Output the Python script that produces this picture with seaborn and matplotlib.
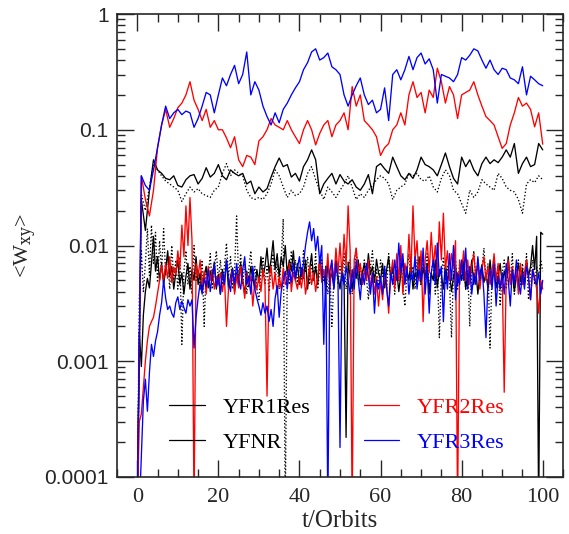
import numpy as np
import pandas as pd
import seaborn as sns
import matplotlib.pyplot as plt
from matplotlib.lines import Line2D
from matplotlib.ticker import FixedLocator, FixedFormatter, LogLocator, MultipleLocator

# time grids (orbits)
t_up = np.arange(0, 101, 1.0)
t_lo = np.arange(0, 100.5, 0.5)

# upper curves (total stress), one value per orbit
blue_up = [0.00005, 0.04, 0.033, 0.03, 0.045, 0.07, 0.11, 0.16, 0.125, 0.14,
           0.15, 0.135, 0.145, 0.14, 0.105, 0.125, 0.16, 0.21, 0.2, 0.14,
           0.2, 0.28, 0.24, 0.3, 0.36, 0.25, 0.3, 0.47, 0.2, 0.26,
           0.22, 0.16, 0.13, 0.11, 0.14, 0.115, 0.15, 0.17, 0.2, 0.23,
           0.26, 0.33, 0.38, 0.47, 0.5, 0.4, 0.42, 0.46, 0.35, 0.33,
           0.3, 0.2, 0.16, 0.2, 0.24, 0.28, 0.2, 0.165, 0.18, 0.14,
           0.15, 0.23, 0.12, 0.3, 0.33, 0.27, 0.33, 0.43, 0.33, 0.42,
           0.46, 0.37, 0.41, 0.33, 0.17, 0.3, 0.29, 0.28, 0.26, 0.3,
           0.42, 0.4, 0.44, 0.5, 0.48, 0.4, 0.34, 0.4, 0.33, 0.3,
           0.34, 0.33, 0.28, 0.27, 0.25, 0.35, 0.2, 0.29, 0.27, 0.25,
           0.24]
red_up = [0.00005, 0.04, 0.025, 0.018, 0.03, 0.07, 0.11, 0.15, 0.105, 0.125,
          0.155, 0.17, 0.2, 0.26, 0.18, 0.15, 0.12, 0.15, 0.105, 0.12,
          0.1, 0.1, 0.085, 0.07, 0.087, 0.055, 0.048, 0.06, 0.058, 0.05,
          0.08, 0.087, 0.1, 0.125, 0.11, 0.105, 0.1, 0.12, 0.1, 0.087,
          0.076, 0.1, 0.12, 0.1, 0.074, 0.093, 0.11, 0.12, 0.087, 0.11,
          0.12, 0.14, 0.1, 0.236, 0.16, 0.2, 0.12, 0.11, 0.1, 0.087,
          0.06, 0.07, 0.076, 0.1, 0.11, 0.14, 0.11, 0.2, 0.26, 0.19,
          0.21, 0.14, 0.22, 0.19, 0.34, 0.26, 0.17, 0.236, 0.2, 0.125,
          0.2, 0.21, 0.22, 0.26, 0.2, 0.16, 0.13, 0.12, 0.11, 0.087,
          0.069, 0.076, 0.11, 0.14, 0.19, 0.16, 0.17, 0.15, 0.106, 0.14,
          0.075]
black_up = [0.00005, 0.025, 0.0135, 0.03, 0.055, 0.045, 0.042, 0.038, 0.037, 0.04,
            0.033, 0.032, 0.037, 0.04, 0.041, 0.034, 0.038, 0.047, 0.039, 0.042,
            0.05, 0.04, 0.037, 0.045, 0.042, 0.04, 0.042, 0.034, 0.036, 0.028,
            0.032, 0.029, 0.031, 0.039, 0.048, 0.057, 0.048, 0.05, 0.039, 0.042,
            0.036, 0.048, 0.055, 0.067, 0.055, 0.028, 0.034, 0.038, 0.042, 0.034,
            0.041, 0.036, 0.034, 0.037, 0.032, 0.03, 0.034, 0.041, 0.028, 0.048,
            0.051, 0.046, 0.042, 0.058, 0.048, 0.04, 0.037, 0.042, 0.038, 0.045,
            0.058, 0.05, 0.048, 0.045, 0.04, 0.05, 0.063, 0.048, 0.038, 0.034,
            0.058, 0.048, 0.055, 0.045, 0.04, 0.051, 0.058, 0.051, 0.055, 0.052,
            0.058, 0.067, 0.058, 0.076, 0.042, 0.051, 0.058, 0.048, 0.05, 0.076,
            0.067]
dot_up = [0.00005, 0.028, 0.02, 0.032, 0.05, 0.045, 0.04, 0.036, 0.034, 0.032,
          0.03, 0.024, 0.028, 0.032, 0.029, 0.031, 0.028, 0.027, 0.026, 0.03,
          0.032, 0.042, 0.051, 0.04, 0.045, 0.042, 0.04, 0.03, 0.026, 0.025,
          0.026, 0.025, 0.028, 0.034, 0.045, 0.04, 0.032, 0.026, 0.03, 0.027,
          0.028, 0.032, 0.042, 0.048, 0.037, 0.03, 0.025, 0.032, 0.029, 0.026,
          0.03, 0.034, 0.04, 0.032, 0.025, 0.028, 0.026, 0.03, 0.033, 0.037,
          0.04, 0.038, 0.034, 0.025, 0.03, 0.032, 0.034, 0.042, 0.04, 0.042,
          0.037, 0.036, 0.04, 0.032, 0.029, 0.038, 0.045, 0.04, 0.03, 0.028,
          0.023, 0.019, 0.03, 0.026, 0.029, 0.037, 0.034, 0.032, 0.03, 0.042,
          0.038, 0.032, 0.03, 0.029, 0.025, 0.019, 0.034, 0.037, 0.035, 0.04,
          0.037]

# lower curves (Reynolds part), every half orbit, in units of 1e-3
black_lo = [0.05, 1.8, 0.9, 2.5, 4.0, 5.2, 4.3, 7.0, 12.0, 6.0, 8.0, 5.0, 7.0, 4.6, 6.2, 9.0, 5.4, 6.6, 4.2, 5.8,
            7.5, 4.6, 5.8, 3.8, 5.4, 7.0, 4.2, 6.2, 5.0, 8.0, 4.6, 5.8, 4.0, 5.4, 6.6, 4.3, 6.0, 5.0, 7.2, 4.2,
            5.6, 3.8, 6.2, 4.8, 7.5, 4.2, 5.4, 6.4, 4.0, 5.8, 4.6, 7.0, 5.0, 3.8, 6.0, 4.4, 6.6, 5.2, 4.2, 6.2,
            4.8, 8.0, 5.4, 6.6, 9.5, 5.8, 7.5, 11.0, 6.2, 8.5, 5.4, 8.0, 6.6, 10.0, 5.6, 7.5, 6.0, 9.0, 5.0, 7.0,
            4.6, 6.4, 5.2, 7.5, 4.2, 6.2, 8.5, 5.0, 6.6, 4.6, 8.0, 5.4, 6.0, 4.0, 7.0, 5.0, 5.8, 4.3, 7.5, 5.4,
            4.2, 6.2, 5.0, 0.22, 7.2, 5.4, 4.2, 6.4, 5.2, 7.5, 4.6, 5.8, 7.0, 5.0, 8.5, 5.6, 6.6, 4.8, 7.6, 5.8,
            5.0, 7.0, 4.3, 6.2, 8.0, 5.2, 6.6, 4.6, 6.0, 4.0, 5.6, 7.5, 4.8, 6.2, 5.0, 7.2, 4.2, 5.8, 5.2, 8.0,
            4.6, 6.4, 5.4, 7.0, 3.8, 5.8, 5.0, 7.5, 4.3, 6.2, 5.6, 4.2, 6.8, 5.0, 5.8, 4.0, 5.4, 6.6, 4.6, 6.0,
            5.0, 7.2, 4.2, 5.8, 5.2, 7.5, 4.6, 6.2, 3.8, 5.6, 6.8, 4.8, 5.8, 4.2, 7.5, 5.0, 6.4, 4.3, 5.4, 7.0,
            4.6, 6.0, 5.0, 8.0, 4.8, 5.8, 4.0, 5.4, 7.0, 5.0, 6.2, 4.6, 7.5, 5.4, 6.6, 10.0, 6.2, 12.0, 0.05, 13.0,
            12.5]
dot_lo = [0.05, 3.5, 9.0, 4.0, 7.0, 14.0, 5.5, 15.0, 7.0, 13.0, 4.8, 11.0, 6.0, 14.0, 5.5, 8.0, 4.2, 10.0, 5.0, 7.5,
          4.2, 8.0, 1.4, 6.0, 9.0, 4.6, 6.6, 3.8, 10.0, 5.0, 6.2, 4.2, 7.5, 2.0, 6.6, 5.4, 8.5, 4.2, 6.2, 9.0,
          5.0, 7.5, 4.6, 6.6, 10.5, 5.4, 8.0, 4.2, 6.0, 18.0, 5.0, 8.5, 4.6, 7.0, 3.8, 6.2, 9.0, 5.0, 6.6, 4.2,
          3.4, 5.8, 8.0, 4.6, 6.6, 4.0, 6.2, 8.5, 5.0, 7.0, 4.2, 7.5, 17.0, 0.05, 6.6, 4.6, 9.0, 5.4, 7.5, 4.6,
          6.6, 5.0, 9.0, 5.8, 8.0, 4.6, 7.0, 5.4, 8.5, 4.2, 6.2, 7.5, 5.0, 6.6, 3.8, 5.8, 2.0, 5.4, 7.5, 4.6,
          6.6, 5.0, 8.5, 4.2, 6.2, 7.5, 3.8, 5.8, 9.5, 5.0, 7.0, 4.6, 7.5, 5.4, 3.4, 6.6, 9.0, 5.0, 6.2, 4.2,
          7.5, 5.4, 6.6, 4.2, 8.5, 5.0, 6.2, 3.8, 7.0, 5.0, 8.0, 4.6, 3.0, 5.8, 8.5, 5.0, 6.6, 4.2, 7.5, 5.4,
          4.6, 7.0, 5.0, 8.5, 4.2, 5.8, 7.5, 3.8, 6.6, 1.6, 5.4, 8.0, 4.6, 6.6, 5.0, 1.6, 6.2, 7.5, 4.2, 7.0,
          5.0, 7.5, 4.2, 6.2, 2.0, 6.6, 9.0, 5.0, 7.5, 4.6, 6.2, 9.5, 5.0, 7.0, 1.3, 5.8, 8.0, 4.6, 6.6, 3.0,
          5.8, 7.5, 4.2, 6.6, 5.0, 8.5, 3.8, 6.2, 7.5, 4.6, 7.0, 5.0, 8.5, 3.4, 5.8, 7.5, 4.6, 6.6, 5.4, 7.5,
          6.0]
red_lo = [0.05, 0.3, 0.35, 0.6, 1.0, 1.5, 2.0, 2.2, 2.4, 3.0, 3.9, 5.0, 6.7, 5.0, 7.0, 5.2, 8.0, 4.8, 6.5, 5.6,
          9.0, 6.2, 15.0, 8.0, 22.0, 10.0, 26.0, 11.0, 0.05, 7.0, 5.4, 7.5, 4.6, 6.0, 3.8, 6.6, 5.0, 6.2, 4.2, 5.4,
          4.6, 5.8, 4.0, 5.4, 2.0, 4.2, 5.0, 6.2, 3.8, 5.6, 4.3, 6.6, 5.0, 3.5, 5.8, 4.6, 5.4, 3.0, 5.0, 4.2,
          5.4, 4.0, 6.2, 4.6, 0.5, 5.0, 6.6, 4.2, 5.8, 3.8, 5.4, 4.2, 6.4, 4.6, 5.0, 7.0, 4.0, 5.8, 5.0, 4.2,
          5.4, 4.3, 6.2, 3.8, 5.0, 6.6, 4.6, 5.8, 4.0, 5.4, 7.5, 4.8, 6.2, 5.0, 8.5, 4.2, 7.0, 5.0, 9.5, 5.8,
          10.5, 5.4, 12.5, 6.6, 22.0, 9.0, 0.05, 7.5, 9.5, 5.8, 7.0, 4.6, 6.2, 5.0, 7.5, 4.2, 5.8, 3.8, 5.4, 3.0,
          5.0, 3.4, 5.8, 4.6, 2.6, 5.4, 7.5, 4.2, 8.5, 5.0, 10.0, 3.8, 7.0, 5.4, 12.5, 5.8, 22.0, 7.5, 11.0, 5.0,
          9.0, 2.2, 7.5, 11.0, 5.8, 13.0, 6.6, 10.0, 5.4, 16.0, 7.5, 19.0, 6.2, 9.0, 5.0, 8.5, 6.6, 11.0, 0.05, 7.5,
          5.8, 9.0, 5.0, 7.5, 4.6, 6.6, 8.5, 5.4, 7.0, 4.2, 6.2, 8.0, 5.0, 6.6, 4.6, 5.8, 8.5, 5.0, 7.0, 4.2,
          5.8, 0.54, 5.4, 7.5, 4.6, 6.6, 5.0, 6.2, 3.8, 7.0, 4.6, 5.8, 7.5, 5.0, 3.4, 6.2, 5.4, 4.2, 2.6, 5.0,
          4.2]
blue_lo = [0.05, 0.05, 0.15, 0.45, 0.7, 0.37, 0.8, 1.4, 1.1, 1.5, 1.8, 2.5, 3.2, 5.0, 3.5, 2.8, 3.0, 2.6, 2.4, 3.2,
           3.6, 2.8, 3.3, 2.9, 2.6, 3.4, 3.0, 3.4, 1.3, 2.4, 3.5, 4.7, 3.8, 5.2, 4.4, 6.2, 4.0, 5.6, 7.0, 4.4,
           5.4, 3.8, 5.8, 4.6, 7.5, 5.0, 4.0, 6.2, 4.6, 7.0, 5.0, 4.2, 6.2, 8.0, 4.6, 5.4, 3.8, 6.6, 4.2, 3.5,
           3.0, 2.5, 3.2, 2.6, 3.0, 2.2, 2.8, 2.0, 3.5, 4.5, 2.4, 4.0, 5.0, 6.0, 4.2, 6.2, 4.8, 7.0, 5.2, 6.4,
           8.0, 5.4, 7.0, 10.0, 13.0, 16.0, 11.0, 14.0, 9.0, 12.0, 7.0, 10.0, 1.4, 6.6, 0.05, 6.0, 7.5, 4.2, 7.0, 5.0,
           0.18, 5.8, 4.6, 6.6, 5.0, 3.8, 6.2, 4.2, 7.5, 5.0, 3.4, 5.8, 4.6, 7.0, 5.4, 3.8, 5.8, 2.6, 5.0, 4.2,
           5.4, 3.8, 6.6, 4.2, 3.0, 5.8, 4.6, 7.5, 5.0, 10.5, 5.8, 8.5, 4.6, 6.6, 3.8, 5.8, 5.0, 8.0, 4.2, 6.2,
           5.0, 9.5, 3.8, 6.6, 2.6, 5.8, 7.5, 4.6, 10.5, 5.4, 6.6, 2.2, 6.2, 4.2, 8.5, 5.0, 10.0, 3.4, 5.8, 4.6,
           7.5, 5.0, 9.5, 4.2, 6.6, 3.8, 5.8, 4.6, 8.0, 5.0, 6.6, 3.8, 1.6, 5.0, 6.2, 4.2, 7.0, 3.0, 5.4, 4.2,
           5.8, 3.8, 7.0, 5.0, 3.0, 6.2, 4.6, 7.5, 5.0, 3.8, 5.8, 4.2, 6.6, 5.4, 3.4, 6.2, 5.0, 4.6, 5.8, 3.8,
           5.0]

labels = ['YFR1Res', 'YFNR', 'YFR2Res', 'YFR3Res']
colors = ['black', 'black', 'red', 'blue']

sns.set_style('ticks')
plt.rcParams['font.family'] = ['Liberation Serif', 'DejaVu Serif']
plt.rcParams['mathtext.fontset'] = 'dejavuserif'

fig = plt.figure(figsize=(5.69, 5.34), dpi=100)
ax = fig.add_axes([117 / 569, 57 / 534, 446 / 569, 463 / 534])

dotted = (0, (1, 1.6))
series = [
    (t_up, np.array(dot_up), 'black', dotted),
    (t_lo, np.array(dot_lo) * 1e-3, 'black', dotted),
    (t_up, np.array(black_up), 'black', '-'),
    (t_lo, np.array(black_lo) * 1e-3, 'black', '-'),
    (t_up, np.array(red_up), 'red', '-'),
    (t_lo, np.array(red_lo) * 1e-3, 'red', '-'),
    (t_up, np.array(blue_up), 'blue', '-'),
    (t_lo, np.array(blue_lo) * 1e-3, 'blue', '-'),
]
for t, v, c, ls in series:
    df = pd.DataFrame({'t': t, 'w': v})
    sns.lineplot(data=df, x='t', y='w', ax=ax, color=c, linestyle=ls,
                 linewidth=0.95, estimator=None, sort=False)

ax.set_yscale('log')
ax.set_ylim(1e-4, 1)
ax.set_xlim(-5, 105)

ax.yaxis.set_major_locator(FixedLocator([1e-4, 1e-3, 1e-2, 1e-1, 1]))
ax.yaxis.set_major_formatter(FixedFormatter(['0.0001', '0.001', '0.01', '0.1', '1']))
ax.yaxis.set_minor_locator(LogLocator(base=10, subs=np.arange(2, 10), numticks=20))
ax.xaxis.set_major_locator(MultipleLocator(20))
ax.xaxis.set_minor_locator(MultipleLocator(5))

ax.tick_params(which='both', direction='in', top=True, right=True, width=1.0)
ax.tick_params(which='major', length=12)
ax.tick_params(which='minor', length=6)
ax.tick_params(axis='x', labelsize=16, pad=8)
ax.tick_params(axis='y', labelsize=15, pad=6)
for lab in ax.get_yticklabels():
    lab.set_fontfamily(['Liberation Sans', 'DejaVu Sans'])
for sp in ax.spines.values():
    sp.set_linewidth(1.2)

ax.set_xlabel('t/Orbits', fontsize=18, labelpad=2)
ax.set_ylabel('<W$_{\\rm xy}$>', fontsize=16, labelpad=4)

handles = [Line2D([], [], color=c, lw=0.9) for c in colors]
ax.legend(handles, labels, ncol=2, frameon=False, fontsize=16,
          loc='lower left', bbox_to_anchor=(0.097, 0.033), borderaxespad=0,
          handlelength=1.6, handletextpad=0.8, columnspacing=2.4,
          labelspacing=0.65, labelcolor=colors)

fig.savefig('out.png', dpi=100)
